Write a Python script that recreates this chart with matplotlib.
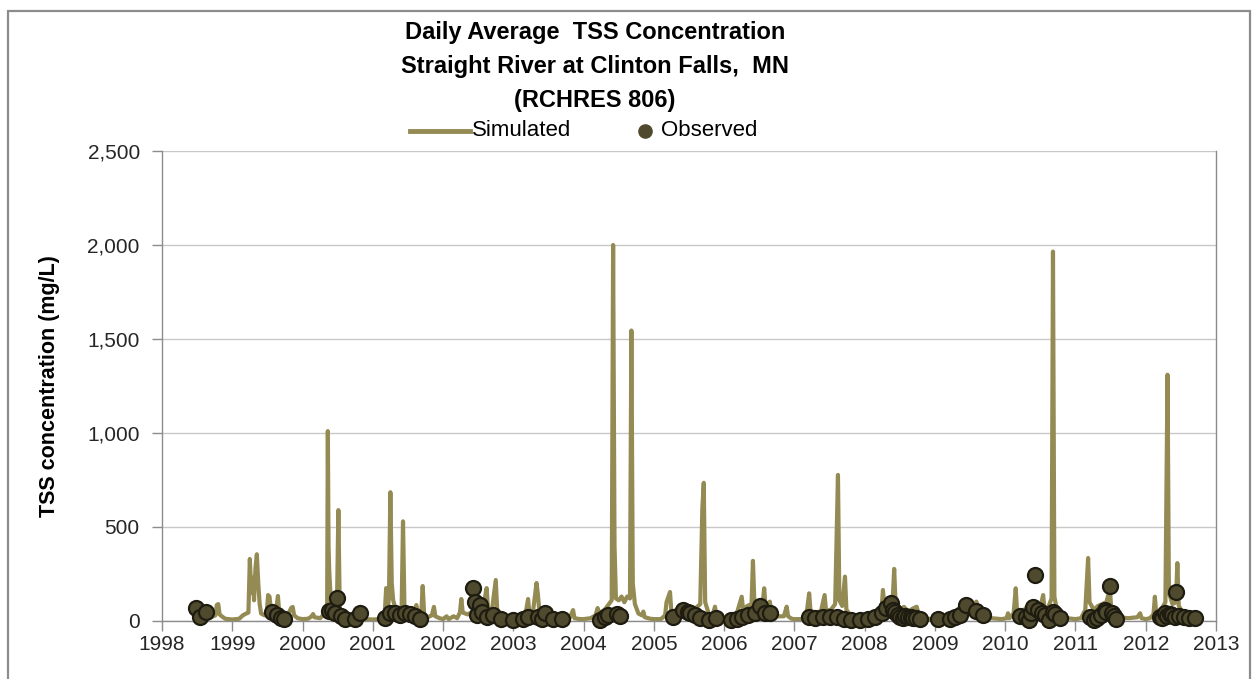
import matplotlib
matplotlib.use("Agg")
import matplotlib.pyplot as plt
from matplotlib.lines import Line2D
from matplotlib.patches import Rectangle

plt.rcParams['font.family'] = ['Liberation Sans', 'DejaVu Sans']

# ---------------- data ----------------
title_lines = ["Daily Average  TSS Concentration",
               "Straight River at Clinton Falls,  MN",
               "(RCHRES 806)"]
y_label = "TSS concentration (mg/L)"
year_ticks = list(range(1998, 2014))
y_ticks = [0, 500, 1000, 1500, 2000, 2500]
y_tick_labels = ["0", "500", "1,000", "1,500", "2,000", "2,500"]

sim_points = [
    (1998.55, 12), (1998.62, 15), (1998.70, 20), (1998.76, 30), (1998.78, 85), (1998.80, 90),
    (1998.82, 35), (1998.85, 25), (1998.90, 12), (1999.00, 8), (1999.10, 12), (1999.15, 30),
    (1999.20, 40), (1999.23, 45), (1999.25, 330), (1999.27, 150), (1999.29, 230), (1999.31, 110),
    (1999.33, 280), (1999.35, 355), (1999.37, 200), (1999.39, 90), (1999.41, 40), (1999.46, 30),
    (1999.49, 40), (1999.51, 138), (1999.53, 130), (1999.55, 60), (1999.58, 40), (1999.62, 45),
    (1999.65, 133), (1999.67, 35), (1999.72, 25), (1999.80, 40), (1999.84, 70), (1999.86, 75),
    (1999.88, 30), (1999.93, 15), (2000.00, 10),
    (2000.08, 12), (2000.13, 25), (2000.15, 37), (2000.17, 20), (2000.25, 15), (2000.32, 40),
    (2000.35, 60), (2000.36, 1010), (2000.37, 400), (2000.38, 270), (2000.40, 120), (2000.43, 70),
    (2000.47, 60), (2000.49, 80), (2000.51, 590), (2000.53, 60), (2000.57, 30), (2000.63, 20),
    (2000.72, 12), (2000.80, 15), (2000.90, 10), (2001.00, 8),
    (2001.10, 10), (2001.17, 40), (2001.19, 175), (2001.21, 60), (2001.23, 120), (2001.25, 685),
    (2001.27, 200), (2001.29, 110), (2001.32, 70), (2001.37, 50), (2001.41, 60), (2001.43, 530),
    (2001.45, 80), (2001.48, 60), (2001.55, 45), (2001.60, 60), (2001.62, 85), (2001.64, 40),
    (2001.69, 40), (2001.71, 186), (2001.73, 40), (2001.78, 20), (2001.84, 30), (2001.87, 75),
    (2001.89, 25), (2001.95, 15), (2002.00, 10),
    (2002.05, 25), (2002.08, 10), (2002.15, 25), (2002.20, 15), (2002.24, 45), (2002.26, 117),
    (2002.28, 45), (2002.35, 35), (2002.42, 50), (2002.47, 90), (2002.52, 60), (2002.58, 90),
    (2002.62, 175), (2002.64, 60), (2002.70, 70), (2002.75, 218), (2002.77, 60), (2002.83, 25),
    (2002.90, 15), (2003.00, 10),
    (2003.10, 12), (2003.17, 30), (2003.21, 117), (2003.23, 35), (2003.28, 50), (2003.33, 202),
    (2003.35, 140), (2003.37, 50), (2003.45, 40), (2003.55, 20), (2003.65, 15), (2003.80, 15),
    (2003.85, 58), (2003.87, 15), (2003.95, 10), (2004.00, 10),
    (2004.10, 15), (2004.17, 30), (2004.20, 69), (2004.22, 40), (2004.30, 60), (2004.36, 90),
    (2004.40, 110), (2004.42, 2000), (2004.44, 400), (2004.46, 120), (2004.50, 110), (2004.54, 130),
    (2004.58, 100), (2004.62, 130), (2004.66, 120), (2004.68, 1545), (2004.70, 200), (2004.73, 90),
    (2004.78, 40), (2004.83, 30), (2004.85, 50), (2004.87, 20), (2004.95, 12), (2005.00, 10),
    (2005.10, 10), (2005.16, 30), (2005.18, 100), (2005.23, 154), (2005.25, 40), (2005.32, 60),
    (2005.38, 85), (2005.45, 75), (2005.52, 70), (2005.60, 70), (2005.66, 90), (2005.69, 600),
    (2005.71, 735), (2005.73, 100), (2005.78, 40), (2005.83, 25), (2005.87, 76), (2005.89, 25),
    (2005.95, 12), (2006.00, 10),
    (2006.10, 12), (2006.18, 40), (2006.25, 129), (2006.27, 60), (2006.33, 80), (2006.39, 90),
    (2006.41, 320), (2006.43, 100), (2006.50, 90), (2006.55, 100), (2006.57, 174), (2006.59, 70),
    (2006.65, 103), (2006.67, 50), (2006.75, 25), (2006.85, 25), (2006.89, 76), (2006.91, 25),
    (2006.96, 12), (2007.00, 10),
    (2007.10, 10), (2007.17, 30), (2007.21, 147), (2007.23, 50), (2007.30, 40), (2007.38, 55),
    (2007.43, 138), (2007.45, 55), (2007.52, 60), (2007.58, 90), (2007.62, 777), (2007.64, 110),
    (2007.68, 80), (2007.72, 236), (2007.74, 60), (2007.80, 30), (2007.90, 15), (2008.00, 10),
    (2008.10, 15), (2008.18, 35), (2008.24, 60), (2008.26, 165), (2008.28, 80), (2008.34, 100),
    (2008.40, 120), (2008.42, 277), (2008.44, 90), (2008.50, 60), (2008.56, 75), (2008.62, 50),
    (2008.68, 65), (2008.74, 76), (2008.77, 35), (2008.85, 15), (2008.95, 10),
    (2009.10, 10), (2009.20, 20), (2009.28, 45), (2009.35, 70), (2009.42, 80), (2009.48, 60),
    (2009.55, 75), (2009.59, 103), (2009.62, 60), (2009.70, 30), (2009.80, 15), (2009.95, 10),
    (2010.02, 15), (2010.04, 41), (2010.06, 15), (2010.12, 40), (2010.15, 174), (2010.17, 40),
    (2010.25, 50), (2010.32, 80), (2010.38, 100), (2010.44, 90), (2010.50, 70), (2010.54, 138),
    (2010.56, 60), (2010.62, 80), (2010.66, 120), (2010.68, 1965), (2010.70, 130), (2010.73, 70),
    (2010.78, 30), (2010.88, 15), (2011.00, 10),
    (2011.08, 15), (2011.14, 60), (2011.18, 335), (2011.20, 100), (2011.26, 60), (2011.32, 80),
    (2011.38, 90), (2011.44, 100), (2011.49, 170), (2011.51, 60), (2011.56, 40), (2011.62, 20),
    (2011.75, 15), (2011.88, 20), (2011.92, 41), (2011.94, 15), (2012.00, 10),
    (2012.06, 15), (2012.11, 35), (2012.13, 129), (2012.15, 35), (2012.22, 60), (2012.28, 100),
    (2012.31, 1310), (2012.33, 150), (2012.38, 90), (2012.43, 100), (2012.45, 308), (2012.47, 80),
    (2012.52, 50), (2012.58, 30), (2012.65, 20), (2012.75, 15), (2012.80, 10),
]
sim_dates = [p[0] for p in sim_points]
sim_values = [p[1] for p in sim_points]

obs_dates = [
    1998.48, 1998.54, 1998.63,
    1999.56, 1999.63, 1999.70, 1999.74,
    2000.38, 2000.42, 2000.46, 2000.49, 2000.55, 2000.60, 2000.75, 2000.82,
    2001.17, 2001.24, 2001.31, 2001.39, 2001.46, 2001.53, 2001.60, 2001.67,
    2002.42, 2002.45, 2002.48, 2002.53, 2002.56, 2002.62, 2002.71, 2002.83, 2003.00,
    2003.14, 2003.21, 2003.35, 2003.41, 2003.45, 2003.57, 2003.69,
    2004.23, 2004.30, 2004.35, 2004.47, 2004.52,
    2005.27, 2005.42, 2005.48, 2005.52, 2005.59, 2005.65, 2005.78, 2005.88,
    2006.10, 2006.18, 2006.25, 2006.34, 2006.44, 2006.51, 2006.58, 2006.65,
    2007.21, 2007.30, 2007.41, 2007.51, 2007.60, 2007.70, 2007.81, 2007.93, 2008.05, 2008.15,
    2008.24, 2008.30, 2008.38, 2008.41, 2008.43, 2008.47, 2008.50, 2008.55, 2008.58, 2008.62,
    2008.66, 2008.69, 2008.73, 2008.79,
    2009.05, 2009.21, 2009.29, 2009.35, 2009.44, 2009.59, 2009.69,
    2010.21, 2010.30, 2010.34, 2010.37, 2010.40, 2010.42, 2010.47, 2010.52, 2010.56, 2010.63,
    2010.68, 2010.71, 2010.78,
    2011.21, 2011.26, 2011.30, 2011.37, 2011.42, 2011.44, 2011.49, 2011.52, 2011.55, 2011.58,
    2012.20, 2012.23, 2012.28, 2012.30, 2012.34, 2012.38, 2012.42, 2012.43, 2012.47, 2012.54,
    2012.61, 2012.70,
]
obs_values = [
    71, 20, 46,
    50, 32, 16, 9,
    55, 60, 40, 120, 25, 10, 8, 40,
    14, 44, 41, 32, 44, 36, 27, 9,
    174, 103, 32, 85, 50, 23, 32, 9, 5,
    9, 20, 23, 10, 44, 9, 9,
    5, 23, 30, 36, 27,
    23, 58, 50, 44, 32, 14, 3, 14,
    5, 9, 23, 32, 41, 80, 45, 41,
    20, 14, 20, 20, 20, 9, 5, 5, 9, 20,
    41, 68, 97, 58, 50, 30, 20, 14, 25, 23,
    20, 18, 15, 9,
    9, 10, 20, 30, 85, 52, 30,
    27, 20, 5, 45, 76, 245, 58, 41, 30, 5,
    50, 35, 14,
    20, 5, 15, 32, 58, 50, 188, 41, 25, 12,
    20, 14, 41, 25, 35, 30, 20, 155, 25, 20,
    14, 14,
]
assert len(obs_dates) == len(obs_values)

# ---------------- style ----------------
W, H = 1255, 679
sim_color = "#948A54"
obs_face = "#4F4A2E"
obs_edge = "#1E1C10"
grid_color = "#C8C8C8"
axis_color = "#8C8C8C"
text_color = "#262626"

fig = plt.figure(figsize=(W / 100, H / 100), dpi=100)
fig.patch.set_facecolor("white")

# outer chart border
fig.add_artist(Rectangle((8 / W, -0.02), (1250 - 8) / W, 1.02 - 11 / H,
                         transform=fig.transFigure, fill=False,
                         edgecolor="#8C8C8C", linewidth=1.6))

ax = fig.add_axes([162 / W, 1 - 621 / H, (1216 - 162) / W, (621 - 151) / H])
ax.set_xlim(1998, 2013)
ax.set_ylim(0, 2500)

ax.plot(sim_dates, sim_values, color=sim_color, linewidth=3.0,
        solid_joinstyle="round", solid_capstyle="round", zorder=3)
ax.plot(obs_dates, obs_values, linestyle="none", marker="o", markersize=10.8,
        markerfacecolor=obs_face, markeredgecolor=obs_edge, markeredgewidth=1.6,
        zorder=4, clip_on=False)

ax.set_yticks(y_ticks)
ax.set_yticklabels(y_tick_labels)
ax.set_xticks(year_ticks)
ax.set_xticklabels([str(y) for y in year_ticks])
ax.yaxis.grid(True, color=grid_color, linewidth=1.0)
ax.set_axisbelow(True)
for side in ["left", "bottom", "right"]:
    ax.spines[side].set_color(axis_color)
    ax.spines[side].set_linewidth(1.0)
ax.spines["top"].set_visible(False)
ax.tick_params(axis="both", direction="out", length=7, width=1.0, color=axis_color,
               labelsize=15, labelcolor=text_color)
ax.tick_params(axis="y", pad=9)
ax.tick_params(axis="x", pad=3)

ax.set_ylabel(y_label, fontsize=15.5, fontweight="bold", color="black", labelpad=20)

# title
title_y = [33, 66, 100]
for line, yy in zip(title_lines, title_y):
    fig.text(595 / W, 1 - yy / H, line, ha="center", va="center",
             fontsize=17, fontweight="bold", color="black")

# legend
leg_y = 1 - 131 / H
fig.add_artist(Line2D([410 / W, 470 / W], [leg_y, leg_y], transform=fig.transFigure,
                      color=sim_color, linewidth=3.5))
fig.text(472 / W, leg_y, "Simulated", ha="left", va="center", fontsize=16, color="black")
fig.add_artist(Line2D([645 / W], [leg_y], transform=fig.transFigure, marker="o",
                      markersize=9.5, markerfacecolor=obs_face, markeredgecolor=obs_face,
                      linestyle="none"))
fig.text(661 / W, leg_y, "Observed", ha="left", va="center", fontsize=16, color="black")

fig.savefig("out.png", dpi=100)
